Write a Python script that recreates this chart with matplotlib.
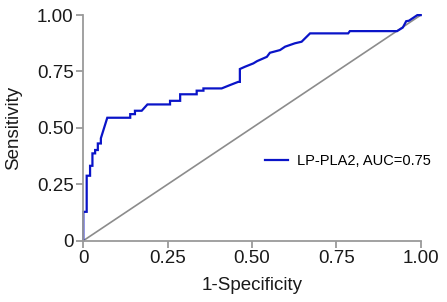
import matplotlib
matplotlib.use('Agg')
import matplotlib.pyplot as plt

# ROC curve vertices
fpr = [0.0, 0.0, 0.010, 0.010, 0.020, 0.020, 0.027, 0.027, 0.035, 0.035, 0.043, 0.043,
       0.052, 0.052, 0.071, 0.139, 0.139, 0.153, 0.153, 0.173, 0.190, 0.257, 0.257,
       0.287, 0.287, 0.316, 0.336, 0.336, 0.356, 0.356, 0.410, 0.435, 0.459, 0.464,
       0.464, 0.479, 0.504, 0.515, 0.544, 0.553, 0.583, 0.598, 0.627, 0.647, 0.672,
       0.785, 0.790, 0.930, 0.947, 0.957, 0.965, 0.990, 1.0]
tpr = [0.0, 0.128, 0.128, 0.288, 0.288, 0.332, 0.332, 0.387, 0.387, 0.402, 0.402, 0.431,
       0.431, 0.454, 0.545, 0.545, 0.561, 0.561, 0.576, 0.576, 0.604, 0.604, 0.620,
       0.620, 0.649, 0.649, 0.649, 0.665, 0.665, 0.675, 0.675, 0.690, 0.704, 0.704,
       0.761, 0.771, 0.786, 0.796, 0.815, 0.833, 0.845, 0.860, 0.875, 0.882, 0.919,
       0.919, 0.929, 0.929, 0.945, 0.973, 0.975, 1.0, 1.0]
ticks = [0, 0.25, 0.5, 0.75, 1.0]
tick_labels = ['0', '0.25', '0.50', '0.75', '1.00']
label = 'LP-PLA2, AUC=0.75'

plt.rcParams['font.family'] = ['Liberation Sans', 'DejaVu Sans']

fig = plt.figure(figsize=(4.47, 3.02), dpi=100)
ax = fig.add_axes([0.1864, 0.203, 0.7548, 0.747])

ax.plot([0, 1], [0, 1], color='#8c8c8c', linewidth=1.2, clip_on=False)
ax.plot(fpr, tpr, color='#0a14c8', linewidth=1.6, label=label, clip_on=False,
        solid_joinstyle='miter')

ax.set_xlim(0, 1)
ax.set_ylim(0, 1)
ax.set_xticks(ticks)
ax.set_xticklabels(tick_labels)
ax.set_yticks(ticks)
ax.set_yticklabels(tick_labels)

for side in ['top', 'right']:
    ax.spines[side].set_visible(False)
for side in ['left', 'bottom']:
    ax.spines[side].set_color('#9a9a9a')
    ax.spines[side].set_linewidth(1.3)

ax.tick_params(colors='#9a9a9a', width=1.3, length=5, labelsize=13.5,
               labelcolor='#1a1a1a', pad=2)

ax.set_xlabel('1-Specificity', fontsize=13.5, color='#1a1a1a')
ax.set_ylabel('Sensitivity', fontsize=13.5, color='#1a1a1a')
ax.xaxis.set_label_coords(0.5, -0.16)
ax.yaxis.set_label_coords(-0.18, 0.5)

ax.legend(loc='center left', bbox_to_anchor=(0.5, 0.354), frameon=False,
          fontsize=10.5, handlelength=1.6, handletextpad=0.6)

fig.savefig('out.png', dpi=100)
